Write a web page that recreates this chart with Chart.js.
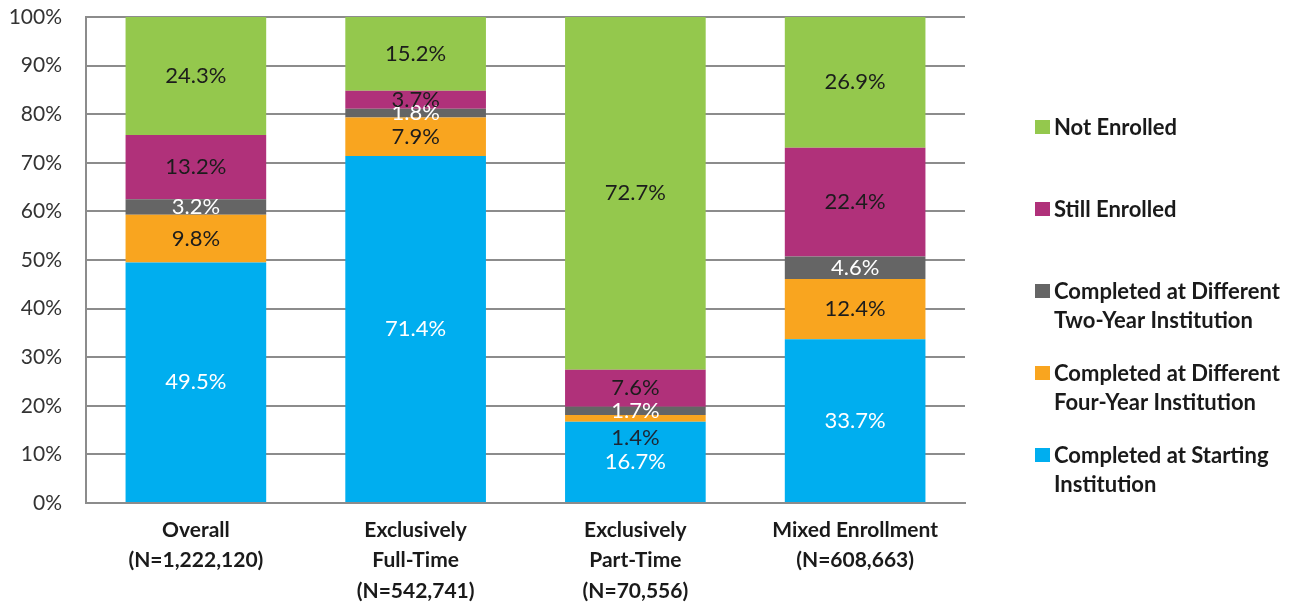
<!DOCTYPE html>
<html lang="en">
  <head>
    <meta charset="UTF-8" />
    <title>Completion outcomes by enrollment intensity</title>
    <style>
      html,
      body {
        margin: 0;
        padding: 0;
        background: #fff;
      }
      #wrap {
        position: relative;
        width: 1297px;
        height: 608px;
      }
    </style>
  </head>
  <body>
    <div id="wrap"><canvas id="chart" width="1297" height="608"></canvas></div>

    <script src="https://cdn.jsdelivr.net/npm/chart.js@4"></script>
    <script>
      // categories (multi-line x labels)
      const categories = [
        ["Overall", "(N=1,222,120)"],
        ["Exclusively", "Full-Time", "(N=542,741)"],
        ["Exclusively", "Part-Time", "(N=70,556)"],
        ["Mixed Enrollment", "(N=608,663)"],
      ];

      // series, bottom to top
      const startingInst = [49.5, 71.4, 16.7, 33.7];
      const fourYearInst = [9.8, 7.9, 1.4, 12.4];
      const twoYearInst = [3.2, 1.8, 1.7, 4.6];
      const stillEnrolled = [13.2, 3.7, 7.6, 22.4];
      const notEnrolled = [24.3, 15.2, 72.7, 26.9];

      const yTicks = [0, 10, 20, 30, 40, 50, 60, 70, 80, 90, 100];

      const seriesNames = [
        ["Completed at Starting", "Institution"],
        ["Completed at Different", "Four-Year Institution"],
        ["Completed at Different", "Two-Year Institution"],
        ["Still Enrolled"],
        ["Not Enrolled"],
      ];
      const colors = ["#00aeef", "#f9a51f", "#656565", "#b0317a", "#94c84d"];
      const labelColors = ["#ffffff", "#1c1c1c", "#ffffff", "#1c1c1c", "#1c1c1c"];

      const FONT = "Lato, 'Open Sans', sans-serif";

      // value labels centred in each segment; the tiny orange one in part-time sits just below
      const segmentLabels = {
        id: "segmentLabels",
        afterDatasetsDraw(chart) {
          const ctx = chart.ctx;
          ctx.save();
          ctx.font = "22px " + FONT;
          ctx.textAlign = "center";
          ctx.textBaseline = "middle";
          chart.data.datasets.forEach((ds, di) => {
            const meta = chart.getDatasetMeta(di);
            meta.data.forEach((bar, i) => {
              let y = (bar.y + bar.base) / 2;
              let color = labelColors[di];
              if (di === 1 && i === 2) {
                y += 19;
                color = "#1c2633";
              }
              ctx.fillStyle = color;
              ctx.fillText(ds.data[i].toFixed(1) + "%", bar.x, y);
            });
          });
          ctx.restore();
        },
      };

      // legend drawn to the right, top item first (reverse of stacking)
      const sideLegend = {
        id: "sideLegend",
        afterDraw(chart) {
          const ctx = chart.ctx;
          const x = 1035;
          const rows = [128, 210, 292, 374, 456];
          ctx.save();
          ctx.font = "bold 22px " + FONT;
          ctx.textBaseline = "middle";
          ctx.textAlign = "left";
          for (let k = 0; k < 5; k++) {
            const si = 4 - k;
            ctx.fillStyle = colors[si];
            ctx.fillRect(x, rows[k] - 8, 15, 14);
            ctx.fillStyle = "#1a1a1a";
            seriesNames[si].forEach((line, li) => {
              ctx.fillText(line, x + 19, rows[k] + li * 29);
            });
          }
          ctx.restore();
        },
      };

      const datasets = [startingInst, fourYearInst, twoYearInst, stillEnrolled, notEnrolled].map(
        (vals, i) => ({
          label: seriesNames[i].join(" "),
          data: vals,
          backgroundColor: colors[i],
          borderWidth: 0,
          categoryPercentage: 1,
          barPercentage: 0.64,
        })
      );

      new Chart(document.getElementById("chart"), {
        type: "bar",
        data: { labels: categories, datasets: datasets },
        plugins: [segmentLabels, sideLegend],
        options: {
          responsive: false,
          animation: false,
          layout: { padding: { top: 17, right: 332, left: 0, bottom: 0 } },
          plugins: {
            legend: { display: false },
            tooltip: { enabled: false },
          },
          scales: {
            x: {
              stacked: true,
              grid: { display: false, drawTicks: false },
              border: { display: true, color: "#8c8c8c", width: 2 },
              ticks: {
                color: "#1a1a1a",
                font: { family: FONT, size: 21, weight: "bold", lineHeight: 1.45 },
                padding: 12,
                maxRotation: 0,
                autoSkip: false,
              },
              afterFit(scale) {
                scale.height = 105;
                scale.paddingLeft = 0;
                scale.paddingRight = 0;
              },
            },
            y: {
              stacked: true,
              min: 0,
              max: 100,
              afterBuildTicks(scale) {
                scale.ticks = yTicks.map((v) => ({ value: v }));
              },
              grid: { color: "#8c8c8c", lineWidth: 2, drawTicks: false },
              border: { display: true, color: "#8c8c8c", width: 2 },
              ticks: {
                color: "#333",
                font: { family: FONT, size: 21 },
                padding: 24,
                callback: (v) => v + "%",
              },
              afterFit(scale) {
                scale.width = 86;
                scale.paddingTop = 0;
                scale.paddingBottom = 0;
              },
            },
          },
        },
      });
    </script>
  </body>
</html>
